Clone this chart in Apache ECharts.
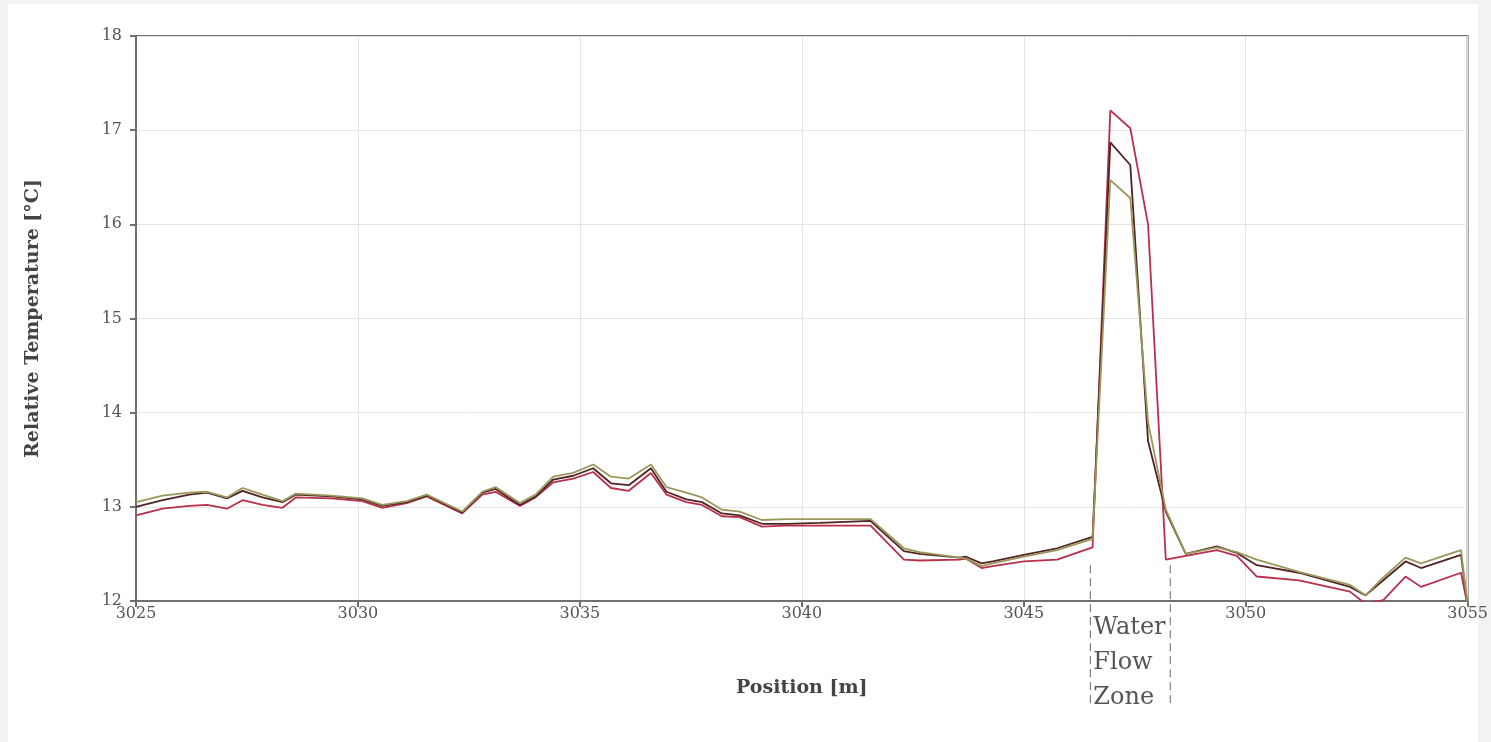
<!DOCTYPE html>
<html>
<head>
<meta charset="utf-8">
<script src="https://cdn.jsdelivr.net/npm/echarts@6/dist/echarts.min.js"></script>
<style>
html,body{margin:0;padding:0;background:#f2f2f2;}
#chart{width:1491px;height:742px;}
</style>
</head>
<body>
<div id="chart"></div>
<script>
// Position along the well [m]
const positions = [3025.0, 3025.6, 3026.2, 3026.6, 3027.05, 3027.4, 3027.85, 3028.3, 3028.6, 3029.4,
  3030.1, 3030.55, 3031.1, 3031.55, 3032.35, 3032.8, 3033.1, 3033.65, 3034.0, 3034.4,
  3034.85, 3035.3, 3035.7, 3036.1, 3036.6, 3036.95, 3037.4, 3037.75, 3038.2, 3038.6,
  3039.1, 3039.65, 3040.4, 3041.55, 3042.3, 3042.65, 3043.55, 3043.7, 3044.05, 3044.3,
  3045.0, 3045.75, 3046.55, 3046.95, 3047.4, 3047.8, 3048.2, 3048.65, 3049.35, 3049.8,
  3050.25, 3051.2, 3052.35, 3052.7, 3053.1, 3053.6, 3053.95, 3054.85, 3055.0];

// Relative temperature traces [°C]
const olive = [13.05, 13.12, 13.15, 13.16, 13.10, 13.20, 13.13, 13.06, 13.14, 13.12,
  13.09, 13.02, 13.06, 13.13, 12.95, 13.16, 13.21, 13.04, 13.13, 13.32,
  13.36, 13.45, 13.32, 13.30, 13.45, 13.21, 13.15, 13.10, 12.97, 12.95,
  12.86, 12.87, 12.87, 12.87, 12.56, 12.52, 12.46, 12.45, 12.37, 12.40,
  12.47, 12.54, 12.66, 16.47, 16.28, 13.90, 12.97, 12.50, 12.57, 12.52,
  12.44, 12.31, 12.17, 12.06, 12.25, 12.46, 12.40, 12.54, 11.95];

const dark = [13.00, 13.07, 13.13, 13.15, 13.09, 13.17, 13.10, 13.05, 13.13, 13.11,
  13.08, 13.01, 13.05, 13.12, 12.94, 13.15, 13.19, 13.02, 13.11, 13.29,
  13.33, 13.41, 13.25, 13.23, 13.41, 13.16, 13.08, 13.05, 12.93, 12.91,
  12.82, 12.82, 12.83, 12.85, 12.53, 12.50, 12.46, 12.47, 12.40, 12.42,
  12.49, 12.56, 12.68, 16.87, 16.63, 13.70, 12.95, 12.50, 12.58, 12.51,
  12.38, 12.30, 12.15, 12.06, 12.22, 12.42, 12.35, 12.49, 11.95];

const red = [12.91, 12.98, 13.01, 13.02, 12.98, 13.07, 13.02, 12.99, 13.10, 13.09,
  13.06, 12.99, 13.04, 13.11, 12.93, 13.13, 13.16, 13.01, 13.10, 13.26,
  13.30, 13.37, 13.20, 13.17, 13.36, 13.13, 13.05, 13.02, 12.90, 12.89,
  12.79, 12.80, 12.80, 12.80, 12.44, 12.43, 12.44, 12.45, 12.35, 12.37,
  12.42, 12.44, 12.57, 17.21, 17.02, 16.00, 12.44, 12.48, 12.54, 12.48,
  12.26, 12.22, 12.10, 11.97, 12.01, 12.26, 12.15, 12.30, 11.95];

// Axis ticks
const xTicks = [3025, 3030, 3035, 3040, 3045, 3050, 3055];
const yTicks = [12, 13, 14, 15, 16, 17, 18];

// Water flow zone annotation
const zoneStart = 3046.5;
const zoneEnd = 3048.3;
const zoneTopValue = 12.38;
const zoneLines = ['Water', 'Flow', 'Zone'];

const pair = vals => positions.map((x, i) => [x, vals[i]]);

const chart = echarts.init(document.getElementById('chart'), null, {renderer: 'canvas'});
const serif = 'DejaVu Serif';
const axisColor = '#707070';

const lineSeries = (name, vals, color) => ({
  name: name,
  type: 'line',
  data: pair(vals),
  showSymbol: false,
  symbol: 'none',
  lineStyle: {color: color, width: 1.8},
  itemStyle: {color: color},
  animation: false,
  clip: true
});

chart.setOption({
  backgroundColor: '#f2f2f2',
  animation: false,
  grid: {left: 136, right: 23, top: 36, bottom: 141, show: true, borderColor: axisColor, borderWidth: 2, backgroundColor: 'transparent'},
  xAxis: {
    type: 'value', min: xTicks[0], max: xTicks[xTicks.length - 1], interval: 5,
    name: 'Position [m]', nameLocation: 'middle', nameGap: 78,
    nameTextStyle: {fontFamily: serif, fontWeight: 'bold', fontSize: 19, color: '#444'},
    axisLine: {show: true, onZero: false, lineStyle: {color: axisColor, width: 2}},
    axisTick: {show: true, length: 6, lineStyle: {color: axisColor, width: 2}},
    axisLabel: {fontFamily: serif, fontSize: 16, color: '#555', margin: 5, showMaxLabel: true, showMinLabel: true,
      formatter: v => String(v)},
    splitLine: {show: true, lineStyle: {color: '#e4e4e4', width: 1}}
  },
  yAxis: {
    type: 'value', min: yTicks[0], max: yTicks[yTicks.length - 1], interval: 1,
    name: 'Relative Temperature [°C]', nameLocation: 'middle', nameGap: 93,
    nameTextStyle: {fontFamily: serif, fontWeight: 'bold', fontSize: 19, color: '#444'},
    axisLine: {show: true, lineStyle: {color: axisColor, width: 2}},
    axisTick: {show: true, length: 6, lineStyle: {color: axisColor, width: 2}},
    axisLabel: {fontFamily: serif, fontSize: 16, color: '#555', margin: 14, formatter: v => String(v)},
    splitLine: {show: true, lineStyle: {color: '#e4e4e4', width: 1}}
  },
  series: [
    lineSeries('Trace A', red, '#b8304a'),
    lineSeries('Trace B', dark, '#4f2422'),
    lineSeries('Trace C', olive, '#9a975c')
  ]
});

// Annotation positioned via the chart's own scales
const pTop = chart.convertToPixel({gridIndex: 0}, [zoneStart, zoneTopValue]);
const pEnd = chart.convertToPixel({gridIndex: 0}, [zoneEnd, zoneTopValue]);
const pBottom = chart.convertToPixel({gridIndex: 0}, [zoneStart, yTicks[0]]);
const lineBottom = pBottom[1] + 105;

const graphics = [
  {type: 'rect', z: -100, silent: true, shape: {x: 8, y: 4, width: 1470, height: 738}, style: {fill: '#ffffff'}},
  {type: 'line', z: 10, silent: true, shape: {x1: pTop[0], y1: pTop[1], x2: pTop[0], y2: lineBottom},
    style: {stroke: '#666', lineWidth: 1, lineDash: [8, 5]}},
  {type: 'line', z: 10, silent: true, shape: {x1: pEnd[0], y1: pEnd[1], x2: pEnd[0], y2: lineBottom},
    style: {stroke: '#666', lineWidth: 1, lineDash: [8, 5]}}
];
zoneLines.forEach((t, i) => {
  graphics.push({type: 'text', z: 10, silent: true, x: pTop[0] + 3, y: pBottom[1] + 27 + i * 35,
    style: {text: t, font: '24px "DejaVu Serif"', fill: '#555', verticalAlign: 'middle', align: 'left'}});
});
chart.setOption({graphic: graphics});
</script>
</body>
</html>
